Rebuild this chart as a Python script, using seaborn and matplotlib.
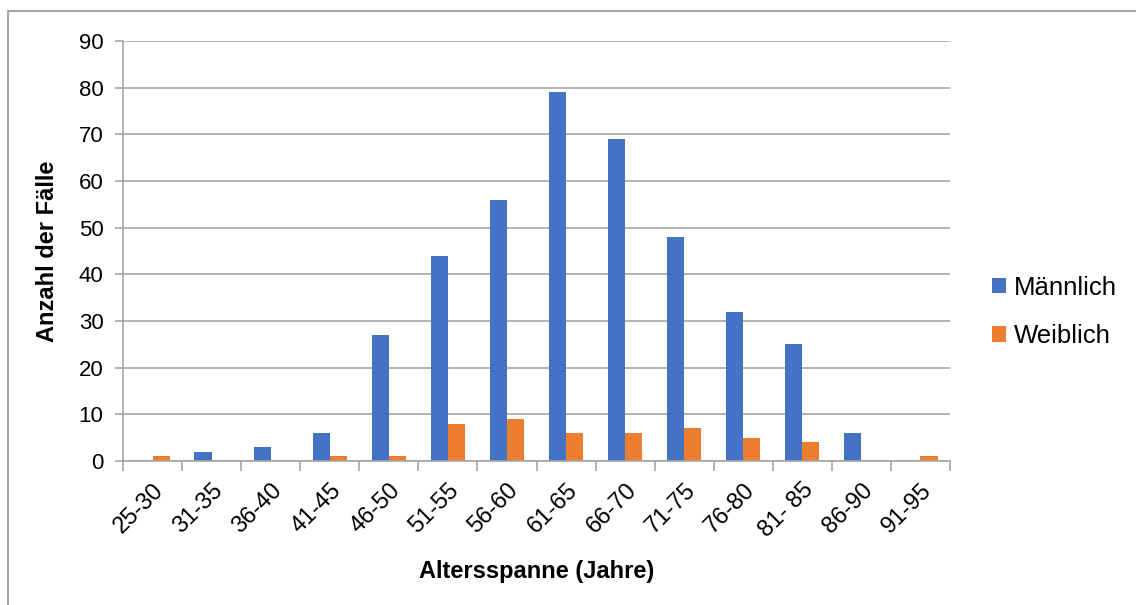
import matplotlib
matplotlib.use("Agg")
import matplotlib.pyplot as plt
from matplotlib.lines import Line2D
from matplotlib.patches import Patch
import seaborn as sns
import pandas as pd

# Age ranges and case counts per sex
categories = ["25-30", "31-35", "36-40", "41-45", "46-50", "51-55", "56-60",
              "61-65", "66-70", "71-75", "76-80", "81- 85", "86-90", "91-95"]
maennlich = [0, 2, 3, 6, 27, 44, 56, 79, 69, 48, 32, 25, 6, 0]
weiblich = [1, 0, 0, 1, 1, 8, 9, 6, 6, 7, 5, 4, 0, 1]
series_names = ["Männlich", "Weiblich"]
y_ticks = [0, 10, 20, 30, 40, 50, 60, 70, 80, 90]

colors = ["#4472C4", "#ED7D31"]
grid_color = "#A6A6A6"

df = pd.DataFrame({
    "Altersspanne": categories * 2,
    "Anzahl": maennlich + weiblich,
    "Geschlecht": [series_names[0]] * len(categories) + [series_names[1]] * len(categories),
})

sns.set_theme(style="white")
plt.rcParams["font.family"] = ["Liberation Sans", "DejaVu Sans"]
plt.rcParams["text.color"] = "black"
plt.rcParams["axes.labelcolor"] = "black"
plt.rcParams["xtick.color"] = "black"
plt.rcParams["ytick.color"] = "black"

fig = plt.figure(figsize=(11.36, 6.05), dpi=100)
ax = fig.add_axes([123 / 1136, 1 - 461 / 605, (950 - 123) / 1136, (461 - 41) / 605])

sns.barplot(data=df, x="Altersspanne", y="Anzahl", hue="Geschlecht",
            hue_order=series_names, order=categories, palette=colors,
            width=0.58, dodge=True, saturation=1, ax=ax, legend=False,
            edgecolor="none", linewidth=0)

ax.set_xlim(-0.5, len(categories) - 0.5)
ax.set_ylim(0, 90)
ax.set_yticks(y_ticks)
ax.set_yticklabels([str(v) for v in y_ticks], fontsize=16)
ax.yaxis.grid(True, color=grid_color, linewidth=1.2)
ax.set_axisbelow(True)

for side in ["top", "right"]:
    ax.spines[side].set_visible(False)
for side in ["left", "bottom"]:
    ax.spines[side].set_color(grid_color)
    ax.spines[side].set_linewidth(1.2)

# Category boundary ticks along the x axis
ax.set_xticks([i - 0.5 for i in range(len(categories) + 1)], minor=True)
ax.tick_params(axis="x", which="minor", length=7, width=1.2, color=grid_color, bottom=True)
ax.tick_params(axis="x", which="major", length=0, pad=13)
ax.tick_params(axis="y", which="major", length=6, width=1.2, color=grid_color, left=True,
               labelcolor="black", pad=8)
ax.set_xticks(range(len(categories)))
ax.set_xticklabels(categories, rotation=45, ha="right", rotation_mode="anchor", fontsize=17)

ax.set_xlabel("Altersspanne (Jahre)", fontsize=17, fontweight="bold", labelpad=13)
ax.set_ylabel("Anzahl der Fälle", fontsize=17, fontweight="bold", labelpad=14)

handles = [Patch(facecolor=c, edgecolor="none") for c in colors]
fig.legend(handles, series_names, loc="center left",
           bbox_to_anchor=(969 / 1136, 1 - 312 / 605), frameon=False,
           fontsize=18.5, handlelength=0.55, handleheight=0.55,
           handletextpad=0.3, labelspacing=0.95)

# Outer frame of the chart area
fig.add_artist(Line2D([8 / 1136, 8 / 1136], [0, 1 - 11 / 605], transform=fig.transFigure,
                      color="#A6A6A6", linewidth=1.5))
fig.add_artist(Line2D([8 / 1136, 1], [1 - 11 / 605, 1 - 11 / 605], transform=fig.transFigure,
                      color="#A6A6A6", linewidth=1.5))

fig.savefig("out.png", dpi=100, facecolor="white")
